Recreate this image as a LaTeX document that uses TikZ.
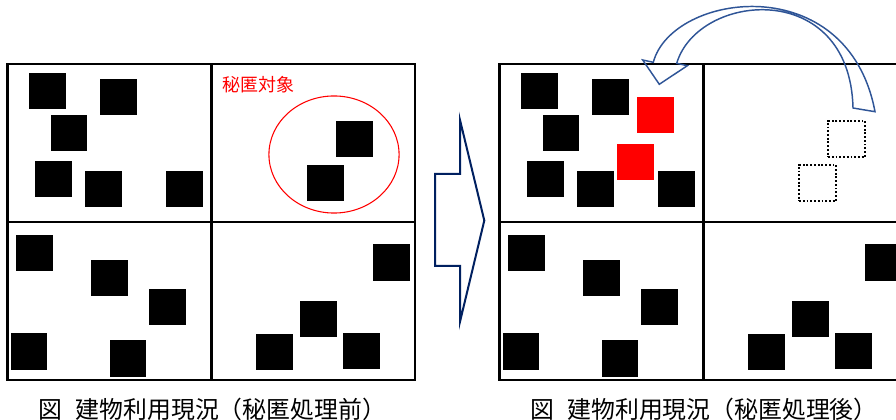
\documentclass[tikz,border=0pt]{standalone}
\usepackage{fontspec}
\newfontfamily\jpfont{Noto Sans CJK JP}
\usepackage{tikz}
\usetikzlibrary{positioning}
\definecolor{arcblue}{RGB}{47,85,151}
\definecolor{navy}{RGB}{0,32,96}

\begin{document}
\begin{tikzpicture}[x=0.75pt, y=-0.75pt,
  bldg/.style={rectangle, fill=black, minimum width=27.6pt,
               minimum height=27.3pt, inner sep=0pt, outer sep=0pt},
  moved/.style={bldg, fill=red},
  gone/.style={bldg, fill=none, draw=black, line width=1.4pt,
               dash pattern=on 1.4pt off 1.4pt},
  frame/.style={draw, line width=1.6pt},
  caption/.style={font=\jpfont\fontsize{17.9}{20}\selectfont,
                  inner sep=0pt, anchor=base west},
  font=\jpfont
]
\useasboundingbox (0,0) rectangle (896,420);
\clip (0,0) rectangle (896,420);
\foreach \dx/\p in {0/L,492/R}{
  \draw[frame] (7.5+\dx,64) rectangle (415+\dx,380)
    (211.5+\dx,64) -- (211.5+\dx,380) (7.5+\dx,222) -- (415+\dx,222);
  \node[bldg] (\p1) at (47.5+\dx,91) {};
  \node[bldg] (\p2) at (118.5+\dx,97) {};
  \node[bldg] (\p3) at (69+\dx,133) {};
  \node[bldg] (\p4) at (53.5+\dx,179) {};
  \node[bldg] (\p5) at (103.5+\dx,189) {};
  \node[bldg] (\p6) at (184.5+\dx,189) {};
  \node[bldg] (\p7) at (34.5+\dx,253) {};
  \node[bldg] (\p8) at (109.5+\dx,278) {};
  \node[bldg] (\p9) at (167.5+\dx,307) {};
  \node[bldg] (\p10) at (29+\dx,351.5) {};
  \node[bldg] (\p11) at (128+\dx,358.5) {};
  \node[bldg] (\p12) at (391.5+\dx,262.5) {};
  \node[bldg] (\p13) at (318.5+\dx,319) {};
  \node[bldg] (\p14) at (274.5+\dx,352) {};
  \node[bldg] (\p15) at (361.5+\dx,351) {};
}
\node[bldg] (secA) at (354.5,139) {};
\node[bldg] (secB) at (325.5,183) {};
\draw[red, line width=0.8pt] (334,154.5) ellipse [x radius=48.8pt, y radius=43.9pt];
\node[text=red, font=\jpfont\fontsize{13.5}{16}\selectfont, inner sep=0pt,
  anchor=base west] (tag) at (222,92) {秘匿対象};

\node[gone] (oldA) at (846.5,139) {};
\node[gone] (oldB) at (817.5,183) {};
\node[moved] (newA) at (655.5,115) {};
\node[moved] (newB) at (635.5,162) {};

\draw[navy, line width=1.5pt] (435,174) -- (460,174) -- (460,120) -- (484.3,220.5)
  -- (460,321.7) -- (460,266) -- (435,266) -- cycle;
\draw[arcblue, line width=1.1pt, line join=miter]
  (875,111.7) .. controls (848,-32) and (672,-8) .. (653.3,62.3)
  -- (642.7,60) -- (659.3,84.3) -- (687.3,65.7) -- (676.7,63.3)
  .. controls (698,-8) and (850,-22) .. (853,108) -- cycle;

\node[caption] (capL) at (38.5,418) {図\hspace{0.55em}建物利用現況（秘匿処理前）};
\node[caption] (capR) at (530.2,418) {図\hspace{0.55em}建物利用現況（秘匿処理後）};
\end{tikzpicture}
\end{document}
